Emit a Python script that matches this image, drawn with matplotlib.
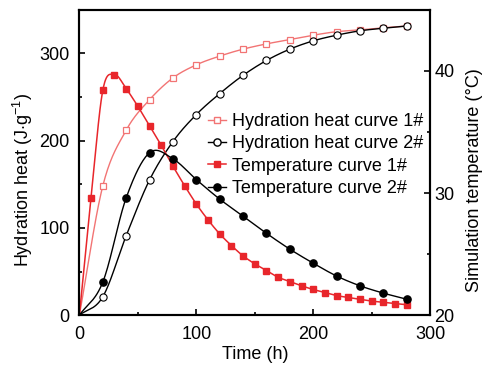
import numpy as np
import matplotlib
matplotlib.use("Agg")
import matplotlib.pyplot as plt

plt.rcParams['font.family'] = ['Liberation Sans', 'DejaVu Sans']
plt.rcParams['mathtext.fontset'] = 'custom'
plt.rcParams['mathtext.rm'] = 'Liberation Sans'

# hydration heat (J/g), every 20 h
t_heat = [0, 20, 40, 60, 80, 100, 120, 140, 160, 180, 200, 220, 240, 260, 280]
heat1 = [0, 148, 212, 247, 272, 287, 297, 305, 311, 316, 321, 325, 327, 329.5, 331.5]
heat2 = [0, 21, 91, 155, 199, 230, 254, 275, 292, 305, 314.5, 321, 326, 329, 331.5]

# simulated temperature (°C)
t_temp1 = [0, 10, 20, 30, 40, 50, 60, 70, 80, 90, 100, 110, 120, 130, 140, 150,
           160, 170, 180, 190, 200, 210, 220, 230, 240, 250, 260, 270, 280]
temp1 = [20, 29.6, 38.4, 39.7, 38.55, 37.1, 35.5, 33.9, 32.2, 30.6, 29.1, 27.8, 26.65,
         25.7, 24.85, 24.2, 23.65, 23.1, 22.75, 22.4, 22.1, 21.85, 21.6, 21.45, 21.3,
         21.15, 21.05, 20.95, 20.85]
t_temp2 = [0, 20, 40, 60, 80, 100, 120, 140, 160, 180, 200, 220, 240, 260, 280]
temp2 = [20, 22.7, 29.6, 33.3, 32.8, 31.1, 29.5, 28.1, 26.7, 25.4, 24.25, 23.2, 22.4, 21.8, 21.3]


def smooth(x, y, n=30):
    # Catmull-Rom line through the points (drawing only)
    p = np.column_stack([x, y]).astype(float)
    p = np.vstack([2 * p[0] - p[1], p, 2 * p[-1] - p[-2]])
    s = np.linspace(0, 1, n)[:, None]
    out = []
    for i in range(1, len(p) - 2):
        p0, p1, p2, p3 = p[i - 1], p[i], p[i + 1], p[i + 2]
        m1 = (p2 - p0) / 2
        m2 = (p3 - p1) / 2
        h00 = 2 * s**3 - 3 * s**2 + 1
        h10 = s**3 - 2 * s**2 + s
        h01 = -2 * s**3 + 3 * s**2
        h11 = s**3 - s**2
        out.append(h00 * p1 + h10 * m1 + h01 * p2 + h11 * m2)
    c = np.vstack(out)
    return c[:, 0], c[:, 1]


light_red = '#f27474'
red = '#e8262b'
fs = 13

fig = plt.figure(figsize=(4.9, 3.66), dpi=100)
ax = fig.add_axes([0.162, 0.139, 0.716, 0.834])
ax2 = ax.twinx()

xs, ys = smooth(t_heat, heat1)
ax.plot(xs, ys, color=light_red, lw=1)
ax.plot(t_heat[1:], heat1[1:], ls='none', marker='s', ms=4.5, mfc='white', mec=light_red, mew=0.9)
xs, ys = smooth(t_heat, heat2)
ax.plot(xs, ys, color='black', lw=1)
ax.plot(t_heat[1:], heat2[1:], ls='none', marker='o', ms=5.2, mfc='white', mec='black', mew=0.8)

xs, ys = smooth(t_temp1, temp1)
ax2.plot(xs, ys, color=red, lw=1.1)
ax2.plot(t_temp1[1:], temp1[1:], ls='none', marker='s', ms=4.8, color=red)
xs, ys = smooth(t_temp2, temp2)
ax2.plot(xs, ys, color='black', lw=1)
ax2.plot(t_temp2[1:], temp2[1:], ls='none', marker='o', ms=5.2, color='black')

ax.set_xlim(0, 300)
ax.set_ylim(0, 350)
ax2.set_ylim(20, 45)
ax.set_xticks([0, 100, 200, 300])
ax.set_xticks([50, 150, 250], minor=True)
ax.set_yticks([0, 100, 200, 300])
ax.set_yticks([50, 150, 250], minor=True)
ax2.set_yticks([20, 30, 40])
ax2.set_yticks([25, 35], minor=True)

for a in (ax, ax2):
    a.tick_params(which='both', direction='in', labelsize=fs, width=1.2)
    a.tick_params(which='major', length=4)
    a.tick_params(which='minor', length=2.5)
    for s in a.spines.values():
        s.set_linewidth(1.5)
ax.tick_params(which='both', right=False, top=False)
ax.tick_params(axis='x', pad=8)
ax.tick_params(axis='y', pad=7)
ax2.tick_params(axis='y', pad=3)

ax.set_xlabel('Time (h)', fontsize=fs, labelpad=2)
ax.set_ylabel('Hydration heat (J$\\cdot$g$^{-1}$)', fontsize=fs, labelpad=3)
ax2.set_ylabel('Simulation temperature (°C)', fontsize=fs, labelpad=8)
ax.yaxis.label.set_y(0.443)
ax2.yaxis.label.set_y(0.443)

handles = [
    plt.Line2D([], [], color=light_red, lw=1, marker='s', ms=4.5, mfc='white', mec=light_red),
    plt.Line2D([], [], color='black', lw=1, marker='o', ms=5.2, mfc='white', mec='black'),
    plt.Line2D([], [], color=red, lw=1.1, marker='s', ms=4.8),
    plt.Line2D([], [], color='black', lw=1, marker='o', ms=5.2),
]
labels = ['Hydration heat curve 1#', 'Hydration heat curve 2#',
          'Temperature curve 1#', 'Temperature curve 2#']
ax2.legend(handles, labels, loc='upper left', bbox_to_anchor=(0.345, 0.686),
           frameon=False, fontsize=fs, handlelength=1.0, handletextpad=0.35,
           labelspacing=0.3, borderaxespad=0)

fig.savefig('out.png', dpi=100)
